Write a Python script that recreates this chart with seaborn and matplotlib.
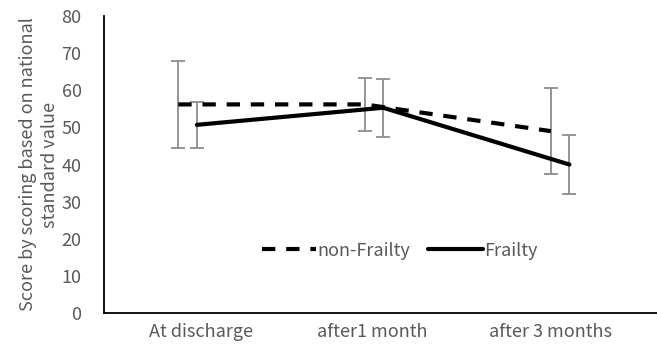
import numpy as np
import pandas as pd
import matplotlib
matplotlib.use("Agg")
import matplotlib.pyplot as plt
import seaborn as sns

# Values
timepoints = ["At discharge", "after1 month", "after 3 months"]
nonfrail_mean = [56.2, 56.2, 49.0]
nonfrail_sd = [11.7, 7.1, 11.6]
frail_mean = [50.7, 55.3, 40.0]
frail_sd = [6.2, 7.8, 7.9]

sns.set_style("white")
plt.rcParams['font.family'] = ['Noto Sans CJK JP', 'DejaVu Sans']

df = pd.DataFrame({
    "pos": list(np.arange(3) - 0.05) + list(np.arange(3) + 0.05),
    "score": nonfrail_mean + frail_mean,
    "sd": nonfrail_sd + frail_sd,
    "group": ["non-Frailty"] * 3 + ["Frailty"] * 3,
})

fig = plt.figure(figsize=(6.57, 3.49), dpi=100)
ax = fig.add_axes([0.158, 0.103, 0.842, 0.851])

# error bars first so lines sit on top
for g in ["non-Frailty", "Frailty"]:
    sub = df[df.group == g]
    ax.errorbar(sub.pos, sub.score, yerr=sub.sd, fmt="none",
                ecolor="#8c8c8c", elinewidth=1.3, capsize=5, capthick=1.3, zorder=2)

sns.lineplot(data=df, x="pos", y="score", style="group",
             dashes={"non-Frailty": (3.2, 2.6), "Frailty": ""},
             color="black", linewidth=3.0, ax=ax, zorder=3)

ax.set_xlim(-0.45, 2.52)
ax.set_ylim(0, 80)
ax.set_yticks(range(0, 81, 10))
# category labels sit slightly off the data columns in the original
ax.set_xticks([0.07, 0.99, 1.95])
ax.set_xticklabels(timepoints)
ax.tick_params(axis="both", colors="#595959", labelsize=13, length=0)
ax.tick_params(axis="x", pad=7)
ax.tick_params(axis="y", pad=16)
ax.set_xlabel("")
ax.set_ylabel("Score by scoring based on national\nstandard value",
              color="#595959", fontsize=13, labelpad=2, linespacing=1.25)

for side in ["top", "right"]:
    ax.spines[side].set_visible(False)
for side in ["left", "bottom"]:
    ax.spines[side].set_color("black")
    ax.spines[side].set_linewidth(1.3)

leg = ax.legend(title=None, loc="center", bbox_to_anchor=(0.535, 0.21),
                ncol=2, frameon=False, fontsize=13, handlelength=3.0,
                handletextpad=0.1, columnspacing=1.0)
for t in leg.get_texts():
    t.set_color("#595959")

fig.savefig("out.png", dpi=100)
